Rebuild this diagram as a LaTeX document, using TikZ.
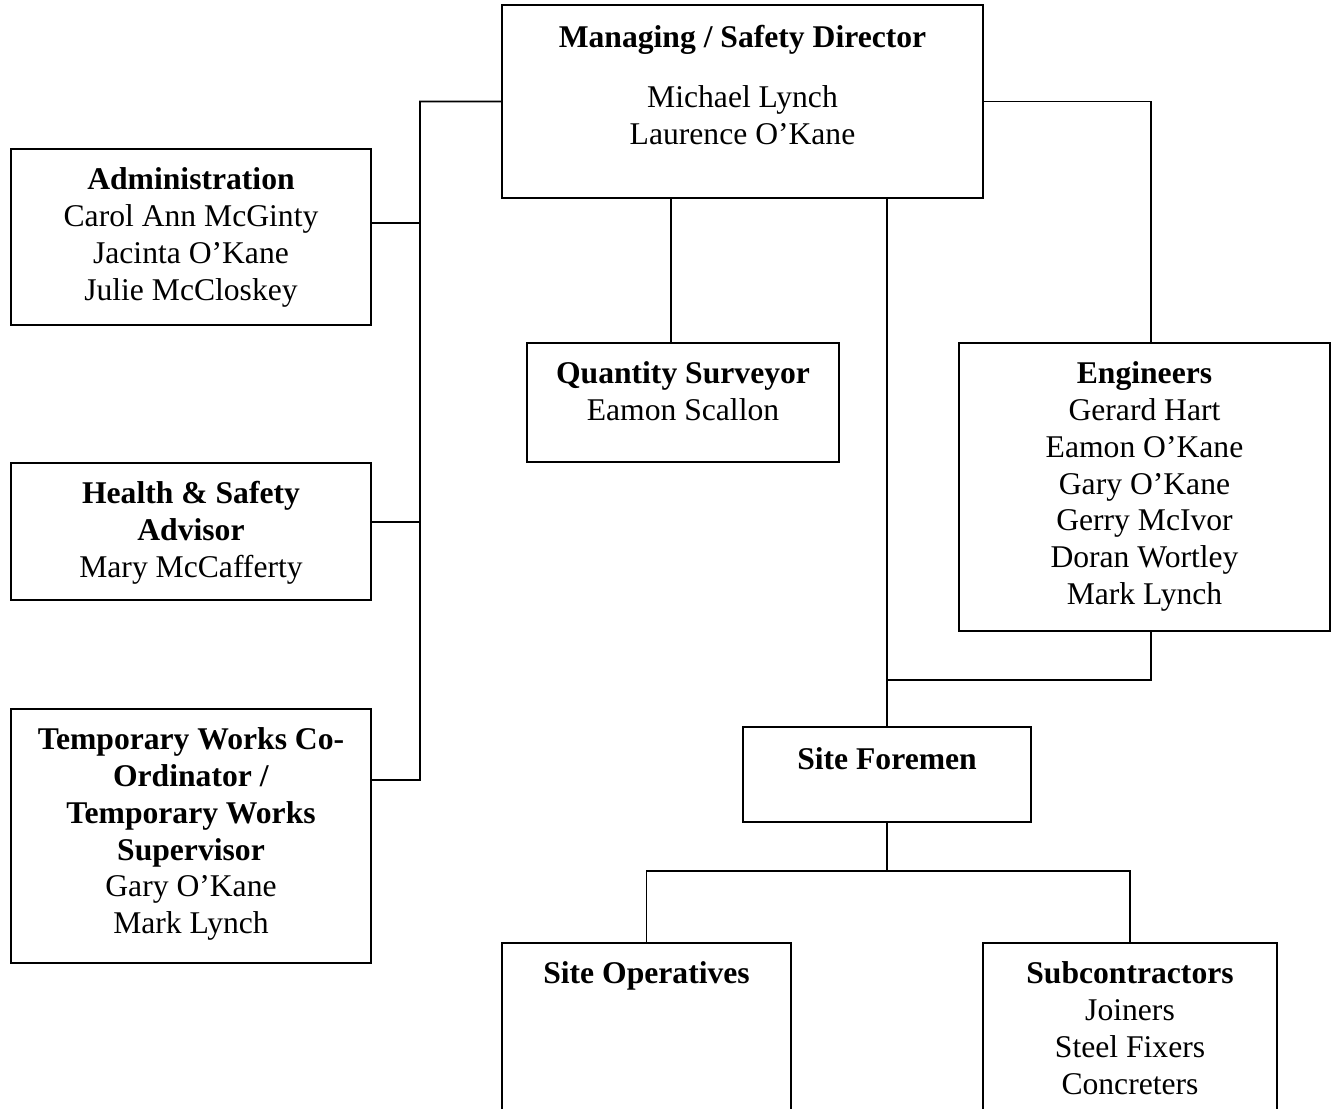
\documentclass[tikz,border=0pt]{standalone}
\usepackage{fontspec}
\setmainfont{Liberation Serif}
\usetikzlibrary{positioning}

\begin{document}
\begin{tikzpicture}[
    x=0.02cm, y=-0.02cm,
    unit/.style={rectangle, draw, line width=1.1pt, inner sep=0pt},
    txt/.style={align=center, inner sep=0pt, font=\fontsize{18}{21}\selectfont},
    link/.style={line width=1.1pt}
]
\path[use as bounding box, clip] (0,0) rectangle (1337,1108);

% Boxes
\node[unit, minimum width=9.62cm, minimum height=3.86cm] (mgr)   at (742.5, 101.5) {};
\node[unit, minimum width=7.2cm,  minimum height=3.52cm] (admin) at (191, 237) {};
\node[unit, minimum width=7.2cm,  minimum height=2.74cm] (hs)    at (191, 531.5) {};
\node[unit, minimum width=7.2cm,  minimum height=5.08cm] (tw)    at (191, 836) {};
\node[unit, minimum width=6.24cm, minimum height=2.38cm] (qs)    at (683, 402.5) {};
\node[unit, minimum width=7.42cm, minimum height=5.76cm] (eng)   at (1144.5, 487) {};
\node[unit, minimum width=5.76cm, minimum height=1.9cm]  (sf)    at (887, 774.5) {};
\node[unit, minimum width=5.78cm, minimum height=4.14cm] (ops)   at (646.5, 1046.5) {};
\node[unit, minimum width=5.88cm, minimum height=4.14cm] (subs)  at (1130, 1046.5) {};

% Texts
\node[txt, below=0.42cm of mgr.north]   (mgr-txt)   {\textbf{Managing / Safety Director}\\[0.46cm]Michael Lynch\\Laurence O’Kane};
\node[txt, below=0.38cm of admin.north] (admin-txt) {\textbf{Administration}\\Carol Ann McGinty\\Jacinta O’Kane\\Julie McCloskey};
\node[txt, below=0.38cm of hs.north]    (hs-txt)    {\textbf{Health \& Safety}\\\textbf{Advisor}\\Mary McCafferty};
\node[txt, below=0.38cm of tw.north]    (tw-txt)    {\textbf{Temporary Works Co-}\\\textbf{Ordinator /}\\\textbf{Temporary Works}\\\textbf{Supervisor}\\Gary O’Kane\\Mark Lynch};
\node[txt, below=0.38cm of qs.north]    (qs-txt)    {\textbf{Quantity Surveyor}\\Eamon Scallon};
\node[txt, below=0.38cm of eng.north]   (eng-txt)   {\textbf{Engineers}\\Gerard Hart\\Eamon O’Kane\\Gary O’Kane\\Gerry McIvor\\Doran Wortley\\Mark Lynch};
\node[txt, below=0.42cm of sf.north]    (sf-txt)    {\textbf{Site Foremen}};
\node[txt, below=0.38cm of ops.north]   (ops-txt)   {\textbf{Site Operatives}};
\node[txt, below=0.38cm of subs.north]  (subs-txt)  {\textbf{Subcontractors}\\Joiners\\Steel Fixers\\Concreters};

% Edges
\coordinate (lbus) at (420, 780);
\draw[link] (mgr.west) -| (lbus) -- ([yshift=1.12cm]tw.east);
\draw[link] ([yshift=0.28cm]admin.east) -- ++(49,0);
\draw[link] ([yshift=0.19cm]hs.east) -- ++(49,0);

\draw[link] ([xshift=-0.24cm]qs.north) -- ([xshift=-0.24cm]qs.north |- mgr.south);
\draw[link] (sf.north) -- (sf.north |- mgr.south);

\draw[link] (mgr.east) -| ([xshift=0.13cm]eng.north);
\draw[link] ([xshift=0.13cm]eng.south) -- ++(0,48) -| (sf.north);

\draw[link] (sf.south) -- ++(0,48) coordinate (fork);
\draw[link] (fork) -| (ops.north);
\draw[link] (fork) -| (subs.north);

\end{tikzpicture}
\end{document}
